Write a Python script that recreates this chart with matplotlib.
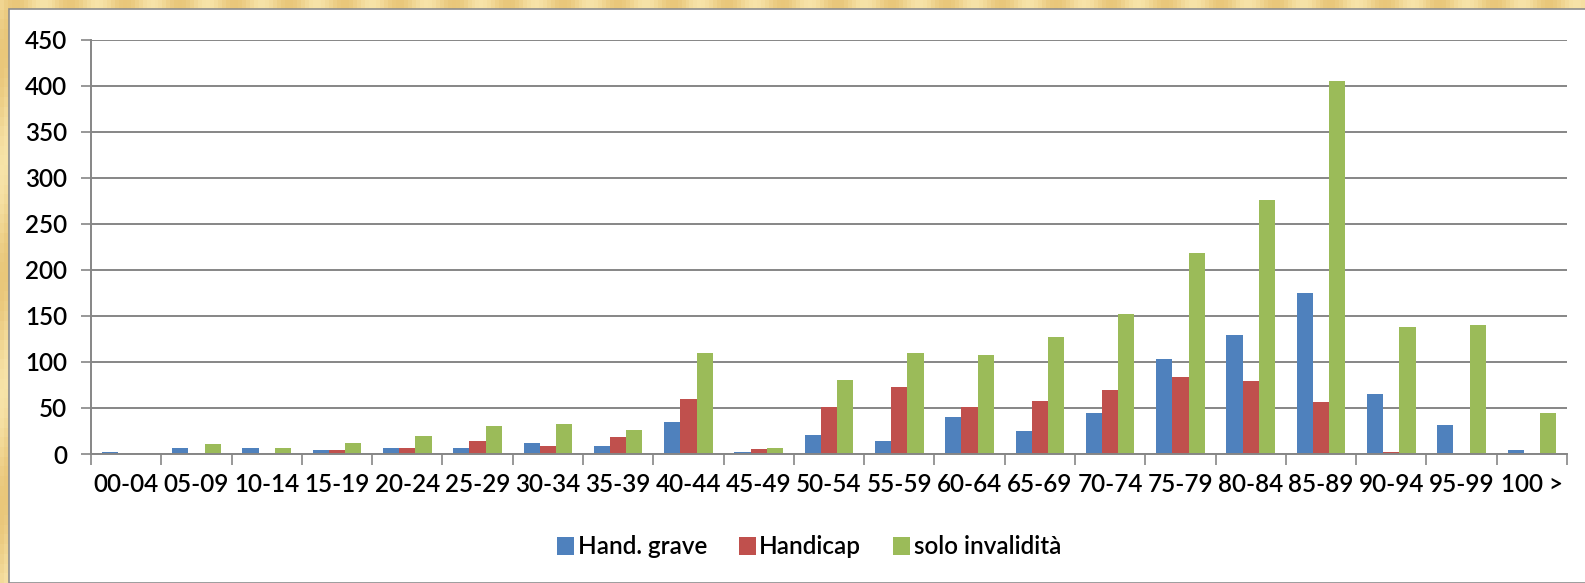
import numpy as np
import matplotlib
matplotlib.use("Agg")
import matplotlib.pyplot as plt
from matplotlib.patches import Rectangle

fasce = ["00-04", "05-09", "10-14", "15-19", "20-24", "25-29", "30-34",
         "35-39", "40-44", "45-49", "50-54", "55-59", "60-64", "65-69",
         "70-74", "75-79", "80-84", "85-89", "90-94", "95-99", "100 >"]
hand_grave = [2, 7, 7, 4, 6, 6, 12, 9, 35, 2, 21, 14, 40, 25, 44, 103, 129, 175, 65, 32, 4]
handicap = [0, 0, 0, 4, 7, 14, 9, 18, 60, 5, 51, 73, 51, 58, 70, 84, 79, 56, 2, 0, 0]
solo_invalidita = [0, 11, 7, 12, 20, 30, 33, 26, 110, 7, 80, 110, 108, 127, 152, 218, 276, 405, 138, 140, 44]

series = [("Hand. grave", hand_grave, "#4F81BD"),
          ("Handicap", handicap, "#C0504D"),
          ("solo invalidità", solo_invalidita, "#9BBB59")]

plt.rcParams["font.family"] = ["Lato", "DejaVu Sans"]
plt.rcParams["font.weight"] = "semibold"

fig = plt.figure(figsize=(15.85, 5.83), dpi=100)
fig.patch.set_facecolor("#F3D99A")

# textured parchment band behind the white panel
bg = fig.add_axes([0, 0, 1, 1], zorder=-2)
yy, xx = np.mgrid[0:60, 0:400]
stripes = 0.5 + 0.5 * np.sin((xx + yy * 0.6) / 2.2)
bg.imshow(stripes, cmap=matplotlib.colors.LinearSegmentedColormap.from_list(
    "carta", ["#F7E3A8", "#E9C77A"]), aspect="auto", extent=[0, 1, 0, 1])
bg.axis("off")

W, H = 1585, 583
panel = Rectangle((9 / W, 0), 1, (H - 9) / H, transform=fig.transFigure,
                  facecolor="white", edgecolor="#8C8C8C", linewidth=1.2, zorder=-1)
fig.patches.append(panel)

ax = fig.add_axes([91 / W, 1 - 454 / H, (1567 - 91) / W, (454 - 39.5) / H])
ax.set_facecolor("none")

x = np.arange(len(fasce))
w = 0.23
for i, (nome, valori, colore) in enumerate(series):
    ax.bar(x + (i - 1) * w, valori, width=w, color=colore, label=nome, zorder=3)

ax.set_xlim(-0.5, len(fasce) - 0.5)
ax.set_ylim(0, 450)
ax.set_yticks(np.arange(0, 451, 50))
ax.yaxis.grid(True, color="#868686", linewidth=1.4, zorder=0)
ax.set_axisbelow(True)

for s in ["top", "right"]:
    ax.spines[s].set_visible(False)
for s in ["left", "bottom"]:
    ax.spines[s].set_color("#868686")
    ax.spines[s].set_linewidth(1.4)
ax.spines["bottom"].set_zorder(4)

ax.set_xticks(x)
ax.set_xticklabels(fasce)
ax.set_xticks(np.arange(-0.5, len(fasce), 1), minor=True)
ax.tick_params(axis="x", which="major", length=0, pad=14, labelsize=17.5)
ax.tick_params(axis="x", which="minor", length=8, width=1.2, color="#868686")
ax.tick_params(axis="y", length=7, width=1.2, color="#868686", pad=10, labelsize=17.5)

leg = fig.legend(loc="center", bbox_to_anchor=(809 / W, 1 - 547 / H), ncol=3, frameon=False,
                 fontsize=17.5, handlelength=0.7, handleheight=0.7, handletextpad=0.15,
                 columnspacing=1.3)

fig.savefig("out.png", dpi=100, facecolor=fig.get_facecolor())
